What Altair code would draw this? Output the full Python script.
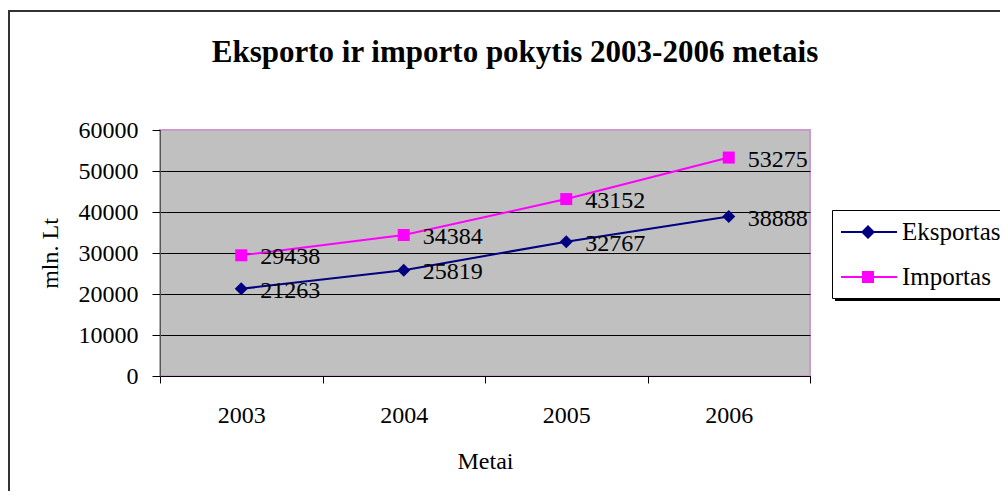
import altair as alt
import pandas as pd

years = ["2003", "2004", "2005", "2006"]
eksportas = [21263, 25819, 32767, 38888]
importas = [29438, 34384, 43152, 53275]
series_names = ["Eksportas", "Importas"]
series_colors = ["#000080", "#FF00FF"]
y_ticks = [0, 10000, 20000, 30000, 40000, 50000, 60000]

FONT = "Liberation Serif"

df = pd.DataFrame({
    "year": years * 2,
    "value": eksportas + importas,
    "series": [series_names[0]] * len(years) + [series_names[1]] * len(years),
})
one = pd.DataFrame({"k": [0]})

color_scale = alt.Scale(domain=series_names, range=series_colors)

# legend symbols: line segment + marker (custom paths, unit radius = 14px)
legend_paths = [
    "M-0.93,-0.07L3.07,-0.07L3.07,0.07L-0.93,0.07Z M0.5,0L1,-0.5L1.5,0L1,0.5Z",
    "M-0.93,-0.07L3.07,-0.07L3.07,0.07L-0.93,0.07Z M0.57,-0.43L1.43,-0.43L1.43,0.43L0.57,0.43Z",
]

x_axis = alt.Axis(
    title="Metai", tickBand="extent", grid=False, labelAngle=0,
    labelFont=FONT, labelFontSize=24, labelColor="black", labelPadding=20,
    tickSize=7, tickColor="black", domainColor="black", domainWidth=1,
    titleFont=FONT, titleFontSize=24, titleFontWeight="normal", titleColor="black",
    titleY=85, titleBaseline="middle",
)
y_axis = alt.Axis(
    title="mln. Lt", values=y_ticks, format="d", grid=True,
    gridColor={"condition": {"test": "datum.value === 60000", "value": "#CC99CC"}, "value": "#000000"},
    gridWidth=1, tickSize=8, tickColor="black", domainColor="#555555", domainWidth=1,
    labelFont=FONT, labelFontSize=24, labelColor="black", labelPadding=14,
    titleFont=FONT, titleFontSize=24, titleFontWeight="normal", titleColor="black",
    titleX=-110, titleY=123, titleAngle=270, titleAlign="center", titleBaseline="middle",
)

x_enc = alt.X("year:N", sort=years, scale=alt.Scale(type="band", paddingInner=0, paddingOuter=0), axis=x_axis)
y_enc = alt.Y("value:Q", scale=alt.Scale(domain=[0, 60000]), axis=y_axis)

base = alt.Chart(df)

layers = []
for name, col, shp, sz in zip(series_names, series_colors, ["diamond", "square"], [169, 144]):
    sub = base.transform_filter(alt.datum.series == name)
    layers.append(sub.mark_line(strokeWidth=2, color=col).encode(x=x_enc, y=y_enc))
    layers.append(sub.mark_point(shape=shp, filled=True, size=sz, opacity=1, color=col).encode(x=x_enc, y=y_enc))

labels = base.mark_text(
    align="left", baseline="middle", dx=19, dy=2, font=FONT, fontSize=24, color="black"
).encode(x=x_enc, y=y_enc, text=alt.Text("value:Q", format="d"))

leg = alt.Legend(
    title=None, orient="none", legendX=672, legendY=80, direction="vertical",
    fillColor="white", strokeColor="black", padding=8, symbolSize=784,
    symbolStrokeWidth=0, symbolOpacity=1, labelFont=FONT, labelFontSize=25,
    labelColor="black", labelOffset=34, rowPadding=18,
    labelExpr="datum.label + '            '",
)
legend_layer = base.transform_filter("datum.value < 0").mark_point(filled=True).encode(
    x=x_enc, y=y_enc,
    color=alt.Color("series:N", scale=color_scale, legend=leg),
    shape=alt.Shape("series:N", scale=alt.Scale(domain=series_names, range=legend_paths), legend=leg),
)

shadow = alt.Chart(one).mark_rect(color="black").encode(
    x=alt.value(675), x2=alt.value(845), y=alt.value(160), y2=alt.value(171)
)
top_border = alt.Chart(one).mark_rule(color="#333333", strokeWidth=2).encode(
    x=alt.value(-151), x2=alt.value(845), y=alt.value(-119)
)
left_border = alt.Chart(one).mark_rule(color="#333333", strokeWidth=2).encode(
    x=alt.value(-151), y=alt.value(-120), y2=alt.value(370)
)

chart = alt.layer(
    top_border, left_border, shadow, *layers, labels, legend_layer
).properties(
    width=650, height=246,
    autosize=alt.AutoSizeParams(type="none"),
    padding={"left": 152, "top": 122, "right": 190, "bottom": 115},
    background="white",
    title=alt.TitleParams(
        text="Eksporto ir importo pokytis 2003-2006 metais", font=FONT, fontSize=31,
        fontWeight="bold", color="black", anchor="middle", frame="group", dx=30,
        offset=0, dy=84, baseline="alphabetic",
    ),
).configure_view(fill="#C0C0C0", stroke="#CC99CC", strokeWidth=2)

chart.save("out.html", embed_options={"renderer": "svg", "actions": False})
